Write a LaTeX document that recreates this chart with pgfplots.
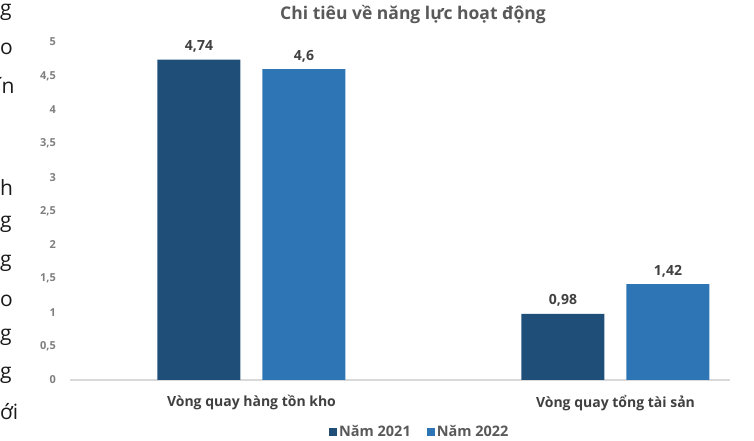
\documentclass[border=0pt]{standalone}
\usepackage{pgfplots}
\pgfplotsset{compat=1.18}
\usepackage{fontspec}
\setmainfont{Open Sans}

\definecolor{darkbar}{HTML}{1F4E79}
\definecolor{lightbar}{HTML}{2E75B6}
\definecolor{titlegray}{HTML}{595959}
\definecolor{tickgray}{HTML}{7F7F7F}
\definecolor{labelgray}{HTML}{404040}
\definecolor{basegray}{HTML}{D9D9D9}
\definecolor{bodytext}{HTML}{1A1A1A}

\begin{document}
\begin{tikzpicture}
  \path[use as bounding box] (0pt,0pt) rectangle (754pt,441pt);
  \clip (0pt,0pt) rectangle (754pt,441pt);

  % fragments of the neighbouring paragraph
  \begin{scope}[every node/.style={anchor=west, inner sep=0pt, font=\fontsize{21}{23}\selectfont, text=bodytext}]
    \node at (0pt,429pt) {g};
    \node at (0pt,392pt) {o};
    \node at (-4pt,356pt) {ín};
    \node at (0pt,253pt) {h};
    \node at (0pt,217pt) {g};
    \node at (0pt,178pt) {g};
    \node at (0pt,140pt) {o};
    \node at (0pt,104pt) {g};
    \node at (0pt,66pt) {g};
    \node at (0pt,29pt) {ới};
  \end{scope}

  % chart title
  \node[font=\bfseries\fontsize{17.5}{19}\selectfont, text=titlegray] at (413pt,426pt) {Chi tiêu về năng lực hoạt động};

  \begin{axis}[
    at={(70pt,61pt)}, anchor=south west,
    scale only axis,
    width=660pt, height=338pt,
    xmin=-0.4986, xmax=1.3146,
    ymin=0, ymax=5,
    clip=false,
    ybar=22pt,
    bar width=83pt,
    axis lines=left,
    y axis line style={draw=none},
    x axis line style={draw=basegray, line width=1.5pt, -},
    major tick length=0pt,
    xtick={0,1},
    xticklabels={Vòng quay hàng tồn kho, Vòng quay tổng tài sản},
    xticklabel style={font=\bfseries\fontsize{14}{16}\selectfont, text=labelgray, yshift=-12pt},
    ytick={0,0.5,...,5},
    yticklabel style={font=\bfseries\fontsize{11}{12}\selectfont, text=tickgray, anchor=east, inner sep=0pt, xshift=-14pt},
    /pgf/number format/use comma,
    /pgf/number format/assume math mode=true,
    nodes near coords,
    nodes near coords style={font=\bfseries\fontsize{14}{16}\selectfont, text=labelgray, anchor=south, inner sep=0pt, yshift=7pt},
    legend style={at={(0.530,-0.154)}, anchor=center, draw=none, fill=none,
      legend columns=2, font=\bfseries\fontsize{14.5}{16}\selectfont, text=titlegray,
      /tikz/every even column/.append style={column sep=14pt}},
    legend image code/.code={\fill[#1] (0pt,-4pt) rectangle (8pt,4pt);},
  ]
    \addplot[fill=darkbar, draw=none] coordinates {(0,4.74) (1,0.98)};
    \addplot[fill=lightbar, draw=none] coordinates {(0,4.6) (1,1.42)};
    \legend{Năm 2021, Năm 2022}
  \end{axis}
\end{tikzpicture}
\end{document}
